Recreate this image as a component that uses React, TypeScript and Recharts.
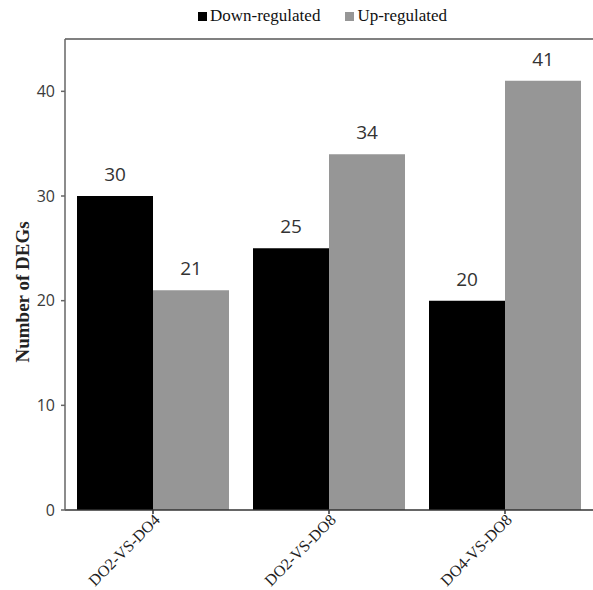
import { Bar, BarChart, LabelList, Legend, ReferenceLine, XAxis, YAxis } from 'recharts';

const comparisons = ['DO2-VS-DO4', 'DO2-VS-DO8', 'DO4-VS-DO8'];
const downRegulated = [30, 25, 20];
const upRegulated = [21, 34, 41];
const yTicks = [0, 10, 20, 30, 40];

const DOWN_COLOR = '#000000';
const UP_COLOR = '#969696';
const SERIF = '"Liberation Serif", "Times New Roman", serif';
const SANS = '"Open Sans", "Noto Sans", sans-serif';

const chartData = comparisons.map((name, i) => ({
  name,
  down: downRegulated[i],
  up: upRegulated[i],
}));

// rotated category labels, ending at the tick
function CategoryTick({ x, y, payload }: any) {
  return (
    <g transform={`translate(${x + 3},${y})`}>
      <text
        transform="rotate(-45)"
        textAnchor="end"
        dy={7}
        fontFamily={SERIF}
        fontSize={16}
        fill="#222"
      >
        {payload.value}
      </text>
    </g>
  );
}

function YTitle() {
  return (
    <text
      x={22}
      y={292}
      transform="rotate(-90, 22, 292)"
      textAnchor="middle"
      dominantBaseline="central"
      fontFamily={SERIF}
      fontWeight="bold"
      fontSize={19}
      fill="#222"
    >
      Number of DEGs
    </text>
  );
}

function TopLegend() {
  const items = [
    { label: 'Down-regulated', color: DOWN_COLOR },
    { label: 'Up-regulated', color: UP_COLOR },
  ];
  return (
    <div
      style={{
        height: 24,
        display: 'flex',
        justifyContent: 'center',
        alignItems: 'center',
        gap: 25,
        fontFamily: SERIF,
        fontSize: 17,
        color: '#111',
        marginLeft: 52,
      }}
    >
      {items.map((it) => (
        <span key={it.label} style={{ display: 'flex', alignItems: 'center' }}>
          <span
            style={{
              width: 9,
              height: 9,
              background: it.color,
              display: 'inline-block',
              marginRight: 3,
            }}
          />
          {it.label}
        </span>
      ))}
    </div>
  );
}

export default function App() {
  return (
    <div style={{ width: 593, height: 590, overflow: 'hidden' }}>
      <style>{'html,body{margin:0;overflow:hidden}'}</style>
      <BarChart
        width={593}
        height={590}
        data={chartData}
        margin={{ top: 15, right: 0, bottom: 0, left: 0 }}
        barCategoryGap={12}
        barGap={0}
      >
        <Legend
          verticalAlign="top"
          content={<TopLegend />}
          wrapperStyle={{ top: 4 }}
        />
        <XAxis
          dataKey="name"
          height={80}
          stroke="#333"
          strokeWidth={1.5}
          tickSize={4}
          tick={<CategoryTick />}
          interval={0}
        />
        <YAxis
          domain={[0, 45]}
          ticks={yTicks}
          width={65}
          stroke="#666"
          strokeWidth={1.5}
          tickSize={4}
          tickMargin={6}
          tick={{ fontFamily: SANS, fontSize: 16, fill: '#3a3a3a' }}
          label={<YTitle />}
        />
        <ReferenceLine y={45} stroke="#808080" strokeWidth={2} />
        <Bar dataKey="down" fill={DOWN_COLOR} isAnimationActive={false}>
          <LabelList dataKey="down" position="top" offset={15} fontFamily={SANS} fontSize={19} fill="#333" />
        </Bar>
        <Bar dataKey="up" fill={UP_COLOR} isAnimationActive={false}>
          <LabelList dataKey="up" position="top" offset={15} fontFamily={SANS} fontSize={19} fill="#333" />
        </Bar>
      </BarChart>
    </div>
  );
}
